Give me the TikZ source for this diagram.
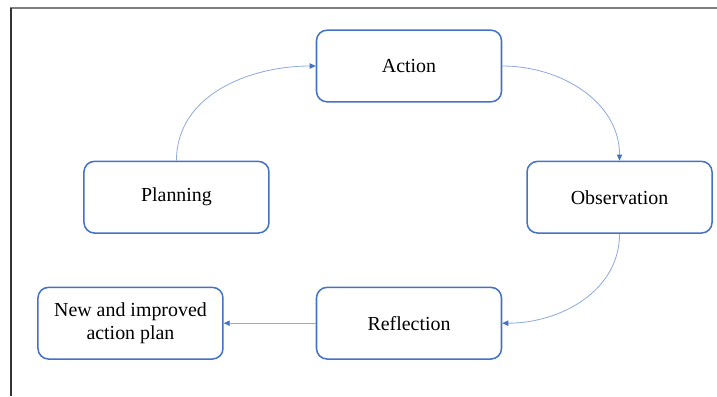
\documentclass[tikz,border=0pt]{standalone}
\usepackage{fontspec}
\setmainfont{Liberation Serif}
\usetikzlibrary{arrows.meta, positioning}
\definecolor{cblue}{HTML}{4472C4}
\definecolor{clight}{HTML}{8FAADC}
\definecolor{cframe}{HTML}{808080}
\tikzset{
  every picture/.style={font=\fontsize{17}{20}\selectfont},
  stagebox/.style={draw=cblue, line width=1.3pt, fill=white, rounded corners=9pt, align=center,
    minimum width=5.55cm, minimum height=2.15cm, inner sep=4pt},
  flow/.style={-{Triangle[length=1.8mm, width=1.6mm, color=cblue]}, draw=clight, line width=0.7pt},
}
\begin{document}
\begin{tikzpicture}
  \useasboundingbox (0,0) rectangle (21.51,-11.88);
  % page frame
  \draw[cframe, line width=1pt] (0.3,-0.24) -- (21.51,-0.24);
  \draw[black!80, line width=1pt] (0.33,-0.24) -- (0.33,-11.88);
  \node[stagebox] (action) at (12.27,-1.98) {Action};
  \node[stagebox, below left=1.74cm and 1.38cm of action] (planning) {Planning};
  \node[stagebox, below right=1.74cm and 0.72cm of action] (observation) {Observation};
  \node[stagebox, below=5.52cm of action] (reflection) {Reflection};
  \node[stagebox, left=2.76cm of reflection] (newplan) {New and improved\\action plan};
  \draw[flow] (planning.north) to[out=90, in=180] (action.west);
  \draw[flow] (action.east) to[out=0, in=90] (observation.north);
  \draw[flow] (observation.south) to[out=-90, in=0] (reflection.east);
  \draw[flow] (reflection) -- (newplan);
\end{tikzpicture}
\end{document}
